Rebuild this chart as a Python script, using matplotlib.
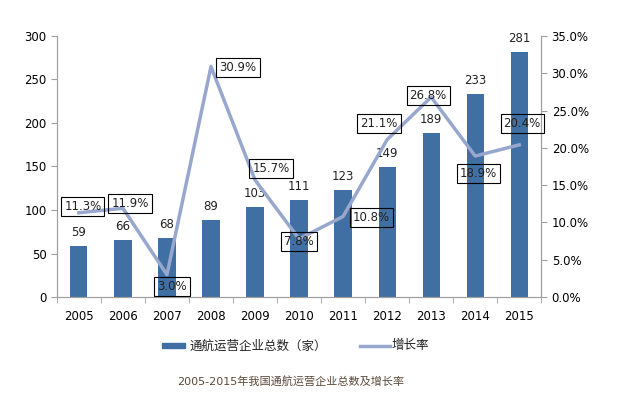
import numpy as np
import matplotlib
matplotlib.use("Agg")
from matplotlib import pyplot as plt
from matplotlib.ticker import FuncFormatter

plt.rcParams['font.family'] = ['DejaVu Sans', 'Noto Sans CJK SC']

years = ["2005", "2006", "2007", "2008", "2009", "2010", "2011", "2012", "2013", "2014", "2015"]
companies = [59, 66, 68, 89, 103, 111, 123, 149, 189, 233, 281]
growth = [11.3, 11.9, 3.0, 30.9, 15.7, 7.8, 10.8, 21.1, 26.8, 18.9, 20.4]

# label box offsets from the line point, in pixels (dx, dy)
label_offsets = [(4, 6), (7, 5), (5, -12), (27, -1), (16, 11), (0, -3),
                 (28, -1), (-8, 16), (-3, 2), (3, -17), (3, 21)]

bar_color = "#3f6fa3"
line_color = "#97a7cd"
axis_color = "#a0a0a0"

fig = plt.figure(figsize=(6.39, 3.95), dpi=100)
ax = fig.add_axes([0.089, 0.248, 0.758, 0.661])
ax2 = ax.twinx()

x = np.arange(len(years))
ax.bar(x, companies, width=0.39, color=bar_color, zorder=2)
for xi, v in zip(x, companies):
    ax.annotate(str(v), (xi, v), xytext=(0, 7), textcoords="offset pixels",
                ha="center", va="bottom", fontsize=8.5, color="#222222")

ax.set_xlim(-0.5, len(years) - 0.5)
ax.set_ylim(0, 300)
ax.set_yticks(range(0, 301, 50))
ax.set_xticks(x)
ax.set_xticklabels(years)
ax.set_xticks(np.arange(-0.5, len(years), 1), minor=True)
ax.tick_params(axis="x", which="major", length=0, pad=9, labelsize=8.5)
ax.tick_params(axis="x", which="minor", length=4, color=axis_color, direction="out")
ax.tick_params(axis="y", length=4, color=axis_color, labelsize=8.5)

ax2.plot(x, growth, color=line_color, lw=2.5, zorder=3)
ax2.set_ylim(0, 35)
ax2.set_yticks(np.arange(0, 35.1, 5))
ax2.yaxis.set_major_formatter(FuncFormatter(lambda v, p: f"{v:.1f}%"))
ax2.tick_params(axis="y", length=4, color=axis_color, labelsize=8.5)
for xi, g, (dx, dy) in zip(x, growth, label_offsets):
    ax2.annotate(f"{g:.1f}%", (xi, g), xytext=(dx, dy), textcoords="offset pixels",
                 ha="center", va="center", fontsize=8.5, color="#222222",
                 bbox=dict(boxstyle="square,pad=0.25", fc="none", ec="black", lw=0.8))

for a in (ax, ax2):
    a.spines["top"].set_visible(False)
    for s in ("left", "right", "bottom"):
        a.spines[s].set_color(axis_color)

# legend built by hand to match the layout
fig.patches.append(plt.Rectangle((162 / 639, 1 - 348 / 395), 23 / 639, 5 / 395,
                                 transform=fig.transFigure, color=bar_color))
fig.text(190 / 639, 1 - 346 / 395, "通航运营企业总数（家）", fontsize=9,
         va="center", ha="left", color="#222222")
fig.lines.append(plt.Line2D([360 / 639, 390 / 639], [1 - 346 / 395, 1 - 346 / 395],
                            transform=fig.transFigure, color=line_color, lw=2.5))
fig.text(392 / 639, 1 - 346 / 395, "增长率", fontsize=9,
         va="center", ha="left", color="#222222")

fig.text(291 / 639, 1 - 381 / 395, "2005-2015年我国通航运营企业总数及增长率", fontsize=8,
         va="center", ha="center", color="#5a4a3a")

fig.savefig("out.png", dpi=100)
